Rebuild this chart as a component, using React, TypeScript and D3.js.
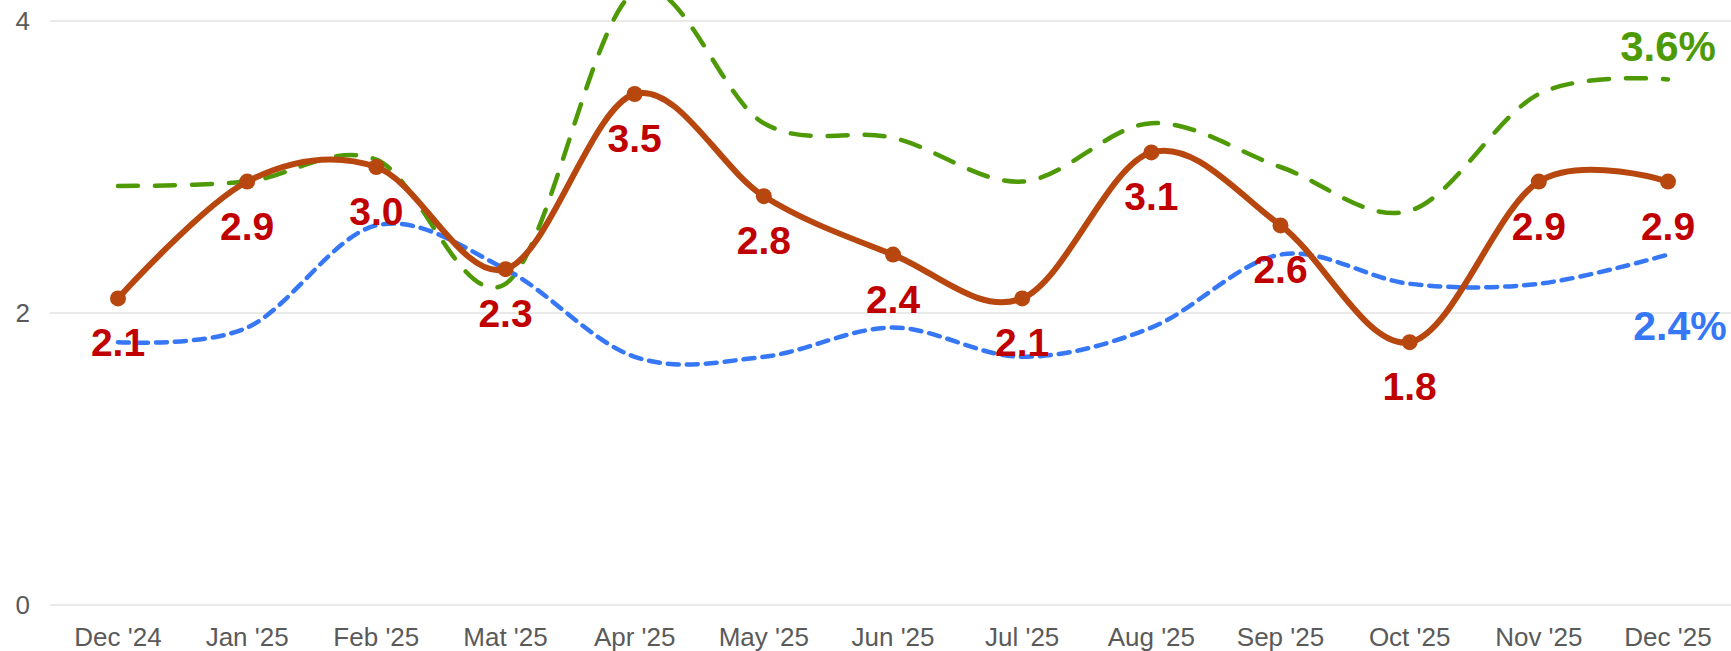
import React from "react";
import * as d3 from "d3";

const months = ["Dec '24", "Jan '25", "Feb '25", "Mat '25", "Apr '25", "May '25", "Jun '25", "Jul '25", "Aug '25", "Sep '25", "Oct '25", "Nov '25", "Dec '25"];
const actual = [2.1, 2.9, 3.0, 2.3, 3.5, 2.8, 2.4, 2.1, 3.1, 2.6, 1.8, 2.9, 2.9];
const greenSeries = [2.87, 2.9, 3.05, 2.2, 4.2, 3.3, 3.2, 2.9, 3.3, 3.0, 2.7, 3.5, 3.6];
const blueSeries = [1.8, 1.9, 2.6, 2.3, 1.7, 1.7, 1.9, 1.7, 1.9, 2.4, 2.2, 2.2, 2.4];
const yTicks = [0, 2, 4];

const W = 1731;
const H = 651;
const FONT = "Arial, 'Liberation Sans', Helvetica, sans-serif";

const App = () => {
  const x = d3.scalePoint<string>().domain(months).range([118, 1668]);
  const y = d3.scaleLinear().domain([0, 4]).range([605, 21]);

  const mk = (vals: number[]) =>
    d3
      .line<number>()
      .x((_, i) => x(months[i]) as number)
      .y((d) => y(d))
      .curve(d3.curveCardinal.tension(0))(vals) || "";

  const last = months.length - 1;
  const lx = x(months[last]) as number;

  return (
    <svg
      width={W}
      height={H}
      style={{ position: "absolute", left: 0, top: 0, display: "block", background: "#fff" }}
      fontFamily={FONT}
    >
      {/* grid + y labels */}
      {yTicks.map((t) => (
        <g key={t}>
          <line x1={50} x2={W} y1={y(t)} y2={y(t)} stroke="#e3e3e3" strokeWidth={1.5} />
          <text x={30} y={y(t)} dy="0.35em" textAnchor="end" fontSize={26} fill="#5a5a5a">
            {t}
          </text>
        </g>
      ))}

      {/* x labels */}
      {months.map((m) => (
        <text key={m} x={x(m)} y={646} textAnchor="middle" fontSize={26} fill="#5a5a5a">
          {m}
        </text>
      ))}

      <path d={mk(greenSeries)} fill="none" stroke="#4e9a06" strokeWidth={4.5} strokeDasharray="20 17" strokeLinecap="round" />
      <path d={mk(blueSeries)} fill="none" stroke="#3677f6" strokeWidth={4.5} strokeDasharray="11 8" strokeLinecap="round" />
      <path d={mk(actual)} fill="none" stroke="#b7470e" strokeWidth={6} />

      {actual.map((v, i) => (
        <circle key={i} cx={x(months[i])} cy={y(v)} r={8} fill="#b7470e" />
      ))}

      {actual.map((v, i) => (
        <text
          key={"l" + i}
          x={x(months[i])}
          y={y(v) + 58}
          textAnchor="middle"
          fontSize={39}
          fontWeight="bold"
          fill="#c00000"
        >
          {v.toFixed(1)}
        </text>
      ))}

      <text x={lx} y={y(greenSeries[last]) - 18} textAnchor="middle" fontSize={42} fontWeight="bold" fill="#4e9a06">
        {greenSeries[last].toFixed(1)}%
      </text>
      <text x={lx + 12} y={y(blueSeries[last]) + 85} textAnchor="middle" fontSize={41} fontWeight="bold" fill="#3677f6">
        {blueSeries[last].toFixed(1)}%
      </text>
    </svg>
  );
};

export default App;
